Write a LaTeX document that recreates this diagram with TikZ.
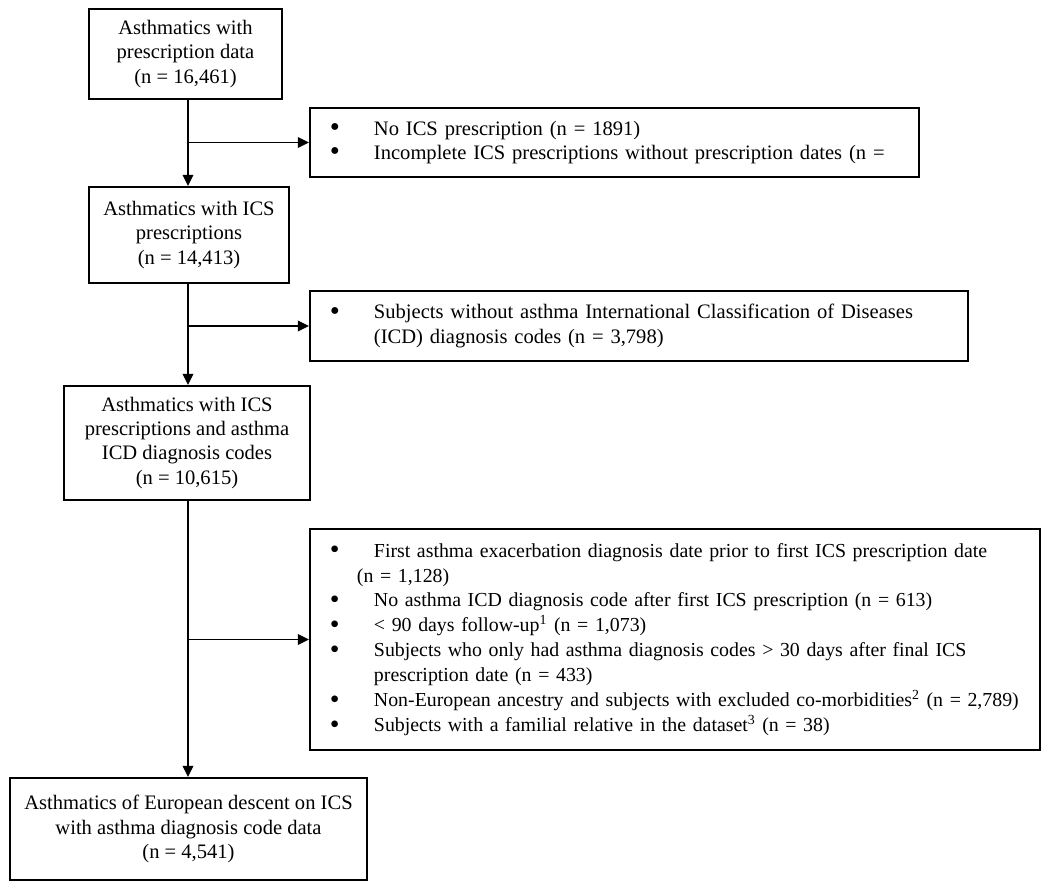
\documentclass[tikz,border=0pt]{standalone}
\usepackage{fontspec}
\setmainfont{Liberation Serif}
\usepackage{tikz}
\usetikzlibrary{arrows.meta}
\usetikzlibrary{positioning}

\newcommand{\bul}[1]{\mbox{\makebox[0.88cm][l]{\smash{\raisebox{-0.15ex}{\scalebox{1.4}{\textbullet}}}}#1}}
\newcommand{\cont}[2][0.88cm]{\mbox{\hspace*{#1}#2}}

\begin{document}
\begin{tikzpicture}[->,>={Triangle[length=6.4pt,width=6pt]},line width=1.1pt,
    main node/.style={draw,rectangle,align=center,inner sep=0pt,font=\fontsize{11.7}{13.7}\selectfont},
    side node/.style={draw,rectangle,anchor=west,align=left,inner xsep=0.4cm,inner ysep=0pt,font=\fontsize{11.7}{13.7}\selectfont}]
        \useasboundingbox (0,0) rectangle (21,-17.8);
        \coordinate (spine) at (3.76,0);

        \node[main node,minimum width=3.86cm,minimum height=1.8cm]  (all)   at (3.71,-1.08)  {Asthmatics with\\prescription data\\(n = 16,461)};
        \node[main node,minimum width=4cm,minimum height=1.92cm]    (ics)   at (3.78,-4.70)  {Asthmatics with ICS\\prescriptions\\(n = 14,413)};
        \node[main node,minimum width=4.92cm,minimum height=2.28cm] (icd)   at (3.74,-8.86)  {Asthmatics with ICS\\prescriptions and asthma\\ICD diagnosis codes\\(n = 10,615)};
        \node[main node,minimum width=7.14cm,minimum height=2.04cm] (final) at (3.77,-16.58) {Asthmatics of European descent on ICS\\with asthma diagnosis code data\\(n = 4,541)};

        \node[side node,text width=11.38cm,minimum height=1.38cm] (noics) at (6.18,-2.85)
            {\bul{No ICS prescription (n = 1891)}\\
             \bul{Incomplete ICS prescriptions without prescription dates (n =}};
        \node[side node,text width=12.36cm,minimum height=1.4cm] (noicd) at (6.18,-6.52)
            {\bul{Subjects without asthma International Classification of Diseases}\\
             \cont{(ICD) diagnosis codes (n = 3,798)}};
        \node[side node,text width=13.8cm,minimum height=4.42cm,font=\fontsize{11.3}{14.2}\selectfont] (excl) at (6.18,-12.79)
            {\bul{First asthma exacerbation diagnosis date prior to first ICS prescription date}\\
             \cont[0.54cm]{(n = 1,128)}\\
             \bul{No asthma ICD diagnosis code after first ICS prescription (n = 613)}\\
             \bul{< 90 days follow-up\textsuperscript{1} (n = 1,073)}\\
             \bul{Subjects who only had asthma diagnosis codes > 30 days after final ICS}\\
             \cont{prescription date (n = 433)}\\
             \bul{Non-European ancestry and subjects with excluded co-morbidities\textsuperscript{2} (n = 2,789)}\\
             \bul{Subjects with a familial relative in the dataset\textsuperscript{3} (n = 38)}};

          \path
            (all.south -| spine)  edge (ics.north -| spine)
            (ics.south -| spine)  edge (icd.north -| spine)
            (icd.south -| spine)  edge (final.north -| spine)
            (noics.west -| spine) edge (noics.west)
            (noicd.west -| spine) edge (noicd.west)
            (excl.west -| spine)  edge (excl.west);
\end{tikzpicture}
\end{document}
